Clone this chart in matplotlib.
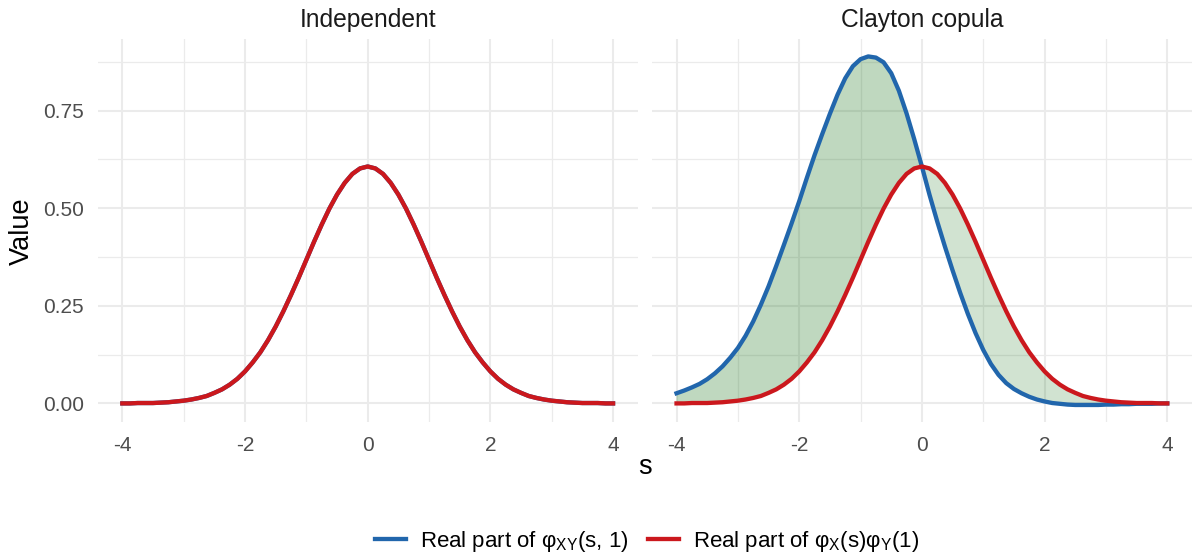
import numpy as np
import matplotlib
matplotlib.use("Agg")
import matplotlib.pyplot as plt
from matplotlib.lines import Line2D

plt.rcParams['font.family'] = ['Liberation Sans', 'DejaVu Sans']
plt.rcParams['mathtext.fontset'] = 'custom'
plt.rcParams['mathtext.rm'] = 'Liberation Sans'
plt.rcParams['mathtext.it'] = 'Liberation Sans:italic'
plt.rcParams['axes.unicode_minus'] = False

# evaluation grid for s
s = np.linspace(-4, 4, 65)

# Real part of phi_X(s) * phi_Y(1)
phi_prod = [
    0.000, 0.000, 0.001, 0.001, 0.001, 0.002, 0.003, 0.005,
    0.007, 0.010, 0.014, 0.019, 0.027, 0.036, 0.048, 0.063,
    0.082, 0.105, 0.131, 0.162, 0.197, 0.236, 0.278, 0.322,
    0.368, 0.414, 0.458, 0.499, 0.535, 0.565, 0.588, 0.602,
    0.607,
    0.602, 0.588, 0.565, 0.535, 0.499, 0.458, 0.414, 0.368,
    0.322, 0.278, 0.236, 0.197, 0.162, 0.131, 0.105, 0.082,
    0.063, 0.048, 0.036, 0.027, 0.019, 0.014, 0.010, 0.007,
    0.005, 0.003, 0.002, 0.001, 0.001, 0.001, 0.000, 0.000,
]

# Real part of phi_XY(s, 1) under the Clayton copula
phi_clayton = [
    0.026, 0.033, 0.041, 0.050, 0.062, 0.077, 0.095, 0.117,
    0.142, 0.173, 0.210, 0.253, 0.300, 0.352, 0.406, 0.461,
    0.518, 0.578, 0.636, 0.690, 0.742, 0.791, 0.833, 0.864,
    0.882, 0.889, 0.886, 0.874, 0.846, 0.801, 0.743, 0.677,
    0.607,
    0.534, 0.466, 0.402, 0.341, 0.283, 0.229, 0.180, 0.137,
    0.101, 0.073, 0.052, 0.037, 0.026, 0.017, 0.010, 0.005,
    0.001, -0.001, -0.003, -0.004, -0.004, -0.004, -0.004, -0.003,
    -0.003, -0.002, -0.002, -0.001, -0.001, -0.001, 0.000, 0.000,
]

panels = ["Independent", "Clayton copula"]
# under independence the joint function equals the product
joint = {"Independent": phi_prod, "Clayton copula": phi_clayton}

x_ticks = [-4, -2, 0, 2, 4]
x_tick_labels = ["-4", "-2", "0", "2", "4"]
y_ticks = [0.0, 0.25, 0.5, 0.75]
y_tick_labels = ["0.00", "0.25", "0.50", "0.75"]

blue = "#2166AC"
red = "#CB181D"
fill_col = "darkgreen"
grid_col = "#EBEBEB"

W, H = 1192, 558
fig = plt.figure(figsize=(W / 100, H / 100), dpi=100)

panel_left = [97.8, 652.0]
panel_w = 539.8
top_px, bot_px = 39.0, 422.4

prod = np.array(phi_prod)
all_vals = np.concatenate([prod, np.array(phi_clayton)])
ymin, ymax = all_vals.min(), all_vals.max()
pad = 0.05 * (ymax - ymin)

for i, name in enumerate(panels):
    ax = fig.add_axes([panel_left[i] / W, (H - bot_px) / H,
                       panel_w / W, (bot_px - top_px) / H])
    jv = np.array(joint[name])
    ax.set_xlim(-4.4, 4.4)
    ax.set_ylim(ymin - pad, ymax + pad)

    for sp in ax.spines.values():
        sp.set_visible(False)
    ax.set_xticks(x_ticks)
    ax.set_xticks([-3, -1, 1, 3], minor=True)
    ax.set_yticks(y_ticks)
    ax.set_yticks([0.125, 0.375, 0.625, 0.875], minor=True)
    ax.grid(which="major", color=grid_col, lw=1.5)
    ax.grid(which="minor", color=grid_col, lw=0.9)
    ax.set_axisbelow(True)
    ax.tick_params(which="both", length=0)
    ax.tick_params(axis="x", pad=10, labelsize=15, labelcolor="#4D4D4D")
    ax.tick_params(axis="y", pad=10, labelsize=15, labelcolor="#4D4D4D")
    ax.set_xticklabels(x_tick_labels)
    if i == 0:
        ax.set_yticklabels(y_tick_labels)
    else:
        ax.set_yticklabels([])

    ax.fill_between(s, jv, prod, where=jv >= prod, interpolate=True,
                    color=fill_col, alpha=0.25, lw=0)
    ax.fill_between(s, jv, prod, where=jv <= prod, interpolate=True,
                    color=fill_col, alpha=0.18, lw=0)
    ax.plot(s, jv, color=blue, lw=3.1, solid_joinstyle="round")
    ax.plot(s, prod, color=red, lw=3.1, solid_joinstyle="round")

    fig.text((panel_left[i] + panel_w / 2) / W, 1 - 20 / H, name,
             ha="center", va="center", fontsize=17.7, color="#1A1A1A")

fig.text(22 / W, 1 - 231 / H, "Value", rotation=90, ha="center",
         va="center", fontsize=19.5, color="black")
fig.text(645 / W, 1 - 467 / H, "s", ha="center", va="center",
         fontsize=19.5, color="black")

handles = [Line2D([], [], color=blue, lw=3.1),
           Line2D([], [], color=red, lw=3.1)]
labels = [r"Real part of φ$_{\mathrm{XY}}$(s, 1)",
          r"Real part of φ$_{\mathrm{X}}$(s)φ$_{\mathrm{Y}}$(1)"]
fig.legend(handles, labels, loc="center", bbox_to_anchor=(647 / W, 1 - 541 / H),
           ncol=2, frameon=False, fontsize=16, handlelength=1.4,
           handletextpad=0.63, columnspacing=0.9)

fig.savefig("out.png", dpi=100)
